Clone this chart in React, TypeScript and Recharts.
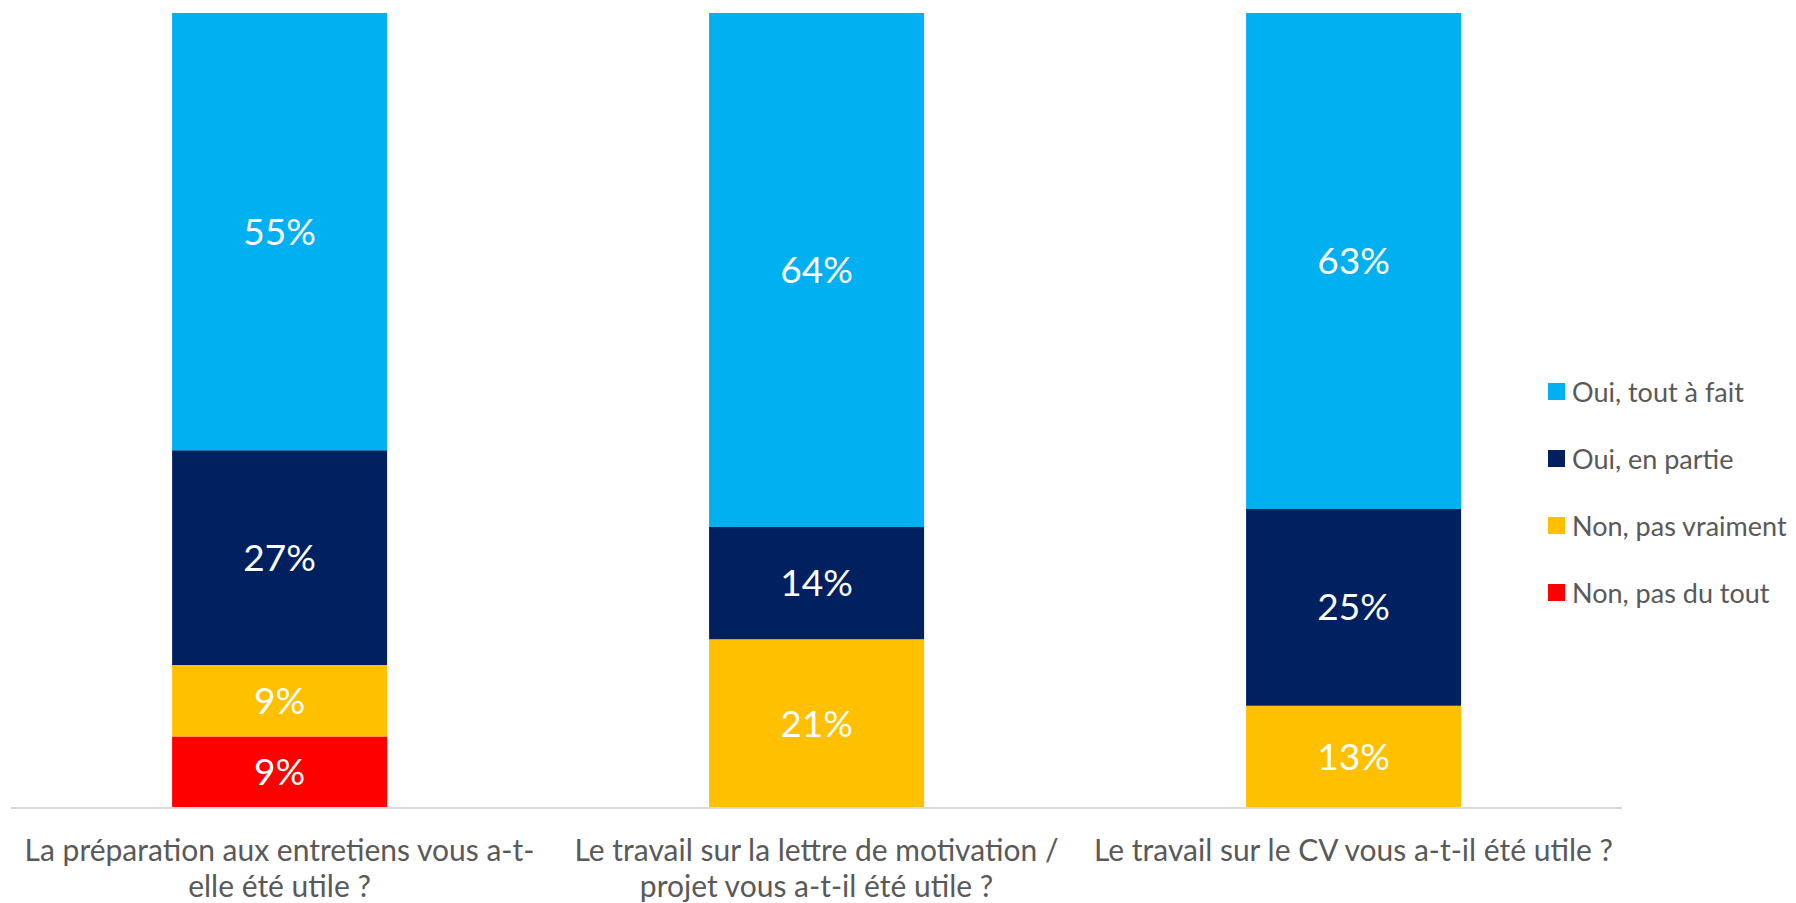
import { BarChart, Bar, XAxis, YAxis, LabelList } from 'recharts';

// question labels, split into the lines shown under each bar
const questions = [
    ['La préparation aux entretiens vous a-t-', 'elle été utile ?'],
    ['Le travail sur la lettre de motivation /', 'projet vous a-t-il été utile ?'],
    ['Le travail sur le CV vous a-t-il été utile ?'],
];

const seriesNames = ['Oui, tout à fait', 'Oui, en partie', 'Non, pas vraiment', 'Non, pas du tout'];
const seriesColors = ['#00b0f0', '#002060', '#ffc000', '#ff0000'];

// percentages per question
const toutAFait = [55, 64, 63];
const enPartie = [27, 14, 25];
const pasVraiment = [9, 21, 13];
const pasDuTout = [9, 0, 0];

const keys = ['toutAFait', 'enPartie', 'pasVraiment', 'pasDuTout'];

const rows = questions.map((q, i) => ({
    name: q.join(' '),
    toutAFait: toutAFait[i],
    enPartie: enPartie[i],
    pasVraiment: pasVraiment[i],
    pasDuTout: pasDuTout[i],
}));

const FONT = 'Lato, "Noto Sans", sans-serif';

function QuestionTick({ x, y, index }: any) {
    const lines = questions[index] || [];
    return (
        <text x={x} y={y} textAnchor="middle" fill="#595959" fontSize={30} fontFamily={FONT}>
            {lines.map((l, k) => (
                <tspan key={k} x={x} dy={k === 0 ? 45 : 36}>{l}</tspan>
            ))}
        </text>
    );
}

function LegendBox() {
    return (
        <div style={{ position: 'absolute', left: 1548, top: 358, fontFamily: FONT, fontSize: 27, color: '#595959' }}>
            {seriesNames.map((n, i) => (
                <div key={n} style={{ display: 'flex', alignItems: 'center', height: 67, whiteSpace: 'nowrap' }}>
                    <span style={{ width: 17, height: 17, background: seriesColors[i], marginRight: 7, display: 'inline-block' }} />
                    {n}
                </div>
            ))}
        </div>
    );
}

export default function App() {
    // bars stack from the bottom, so draw them in reverse of the legend order
    const order = [3, 2, 1, 0];
    return (
        <div style={{ position: 'absolute', left: 0, top: 0, width: 1796, height: 903, background: '#fff' }}>
            <BarChart
                width={1796}
                height={903}
                data={rows}
                stackOffset="expand"
                barCategoryGap="30%"
                margin={{ top: 13, right: 174, left: 11, bottom: 0 }}
            >
                <XAxis
                    dataKey="name"
                    height={95}
                    interval={0}
                    tickLine={false}
                    axisLine={{ stroke: '#d9d9d9', strokeWidth: 2 }}
                    tick={<QuestionTick />}
                />
                <YAxis hide domain={[0, 1]} />
                {order.map((i) => (
                    <Bar
                        key={keys[i]}
                        dataKey={keys[i]}
                        name={seriesNames[i]}
                        stackId="a"
                        fill={seriesColors[i]}
                        isAnimationActive={false}
                    >
                        <LabelList
                            dataKey={keys[i]}
                            position="center"
                            fill="#fff"
                            fontSize={37}
                            fontFamily={FONT}
                            formatter={(v: any) => (v ? `${v}%` : '')}
                        />
                    </Bar>
                ))}
            </BarChart>
            <LegendBox />
        </div>
    );
}
